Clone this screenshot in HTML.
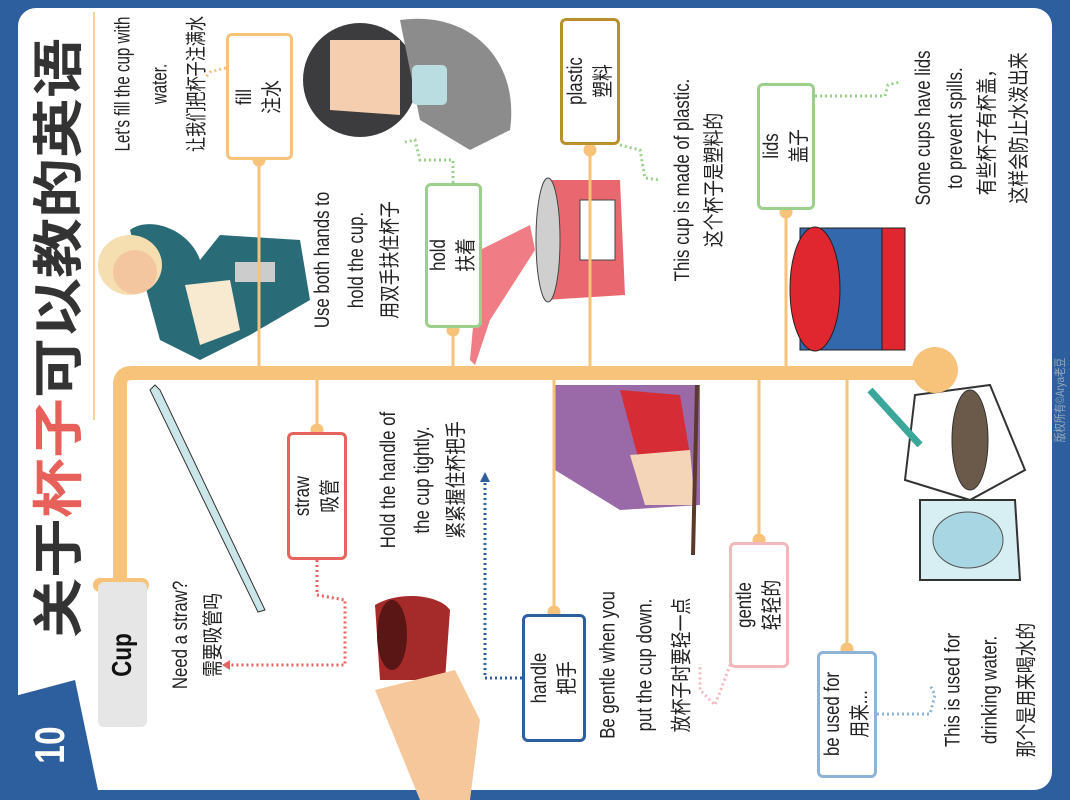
<!DOCTYPE html>
<html><head><meta charset="utf-8"><style>
body{margin:0;width:1070px;height:800px;background:#2d5e9d;position:relative;overflow:hidden;font-family:"Liberation Sans","Noto Sans CJK SC",sans-serif;}
.panel{position:absolute;left:18px;top:8px;width:1034px;height:782px;background:#fff;border-radius:18px;}
.r{position:absolute;transform:translate(-50%,-50%) rotate(-90deg) scaleX(0.8);white-space:nowrap;text-align:center;color:#222;font-size:21px;line-height:34px;}
.box{position:absolute;border:3px solid;border-radius:6px;background:#fff;box-sizing:border-box;}
svg{position:absolute;left:0;top:0;}
</style></head><body>
<div class="panel"></div>
<svg width="1070" height="800">
<polygon points="0,700 75,680 100,800 0,800" fill="#2d5e9d"/>
<line x1="94" y1="12" x2="94" y2="420" stroke="#f7c27a" stroke-width="1.5"/>
<path d="M130,230 C150,215 190,230 200,260 L220,235 L300,240 L310,300 L250,335 L200,360 L160,340 Z" fill="#2a6b78"/>
<ellipse cx="130" cy="265" rx="32" ry="30" fill="#f5deb0"/>
<ellipse cx="135" cy="272" rx="22" ry="22" fill="#f4c6a0"/>
<path d="M185,285 L230,280 L240,330 L200,345 Z" fill="#f8ead0"/>
<rect x="235" y="262" width="40" height="20" fill="#ccc"/>
<circle cx="360" cy="80" r="57" fill="#3c3c3e"/>
<path d="M330,40 L400,40 L400,115 L330,110 Z" fill="#f5ceb0"/>
<path d="M400,20 C470,10 520,60 510,130 L470,150 L420,120 Z" fill="#8c8c8c"/>
<rect x="412" y="65" width="35" height="40" fill="#b9dde0" rx="5"/>
<path d="M480,250 L530,225 L535,250 L490,320 L475,365 L470,360 Z" fill="#f07d85"/>
<path d="M545,180 L620,180 L625,295 L545,300 Z" fill="#e9686f"/>
<ellipse cx="548" cy="240" rx="12" ry="62" fill="#cfcfcf" stroke="#444"/>
<rect x="580" y="200" width="35" height="60" fill="#fff" stroke="#444"/>
<path d="M800,228 L905,228 L905,350 L800,350 Z" fill="#3468ad" stroke="#222"/>
<ellipse cx="815" cy="289" rx="25" ry="62" fill="#e0262f" stroke="#222"/>
<rect x="882" y="228" width="23" height="122" fill="#e0262f" stroke="#222"/>
<path d="M555,385 L700,385 L700,505 L620,510 L555,470 Z" fill="#9a6aa8"/>
<path d="M620,390 L680,395 L690,455 L640,465 Z" fill="#d62c36"/>
<path d="M630,455 L690,450 L695,505 L645,505 Z" fill="#f5d5b8"/>
<line x1="697" y1="385" x2="693" y2="555" stroke="#5a3a2a" stroke-width="4"/>
<path d="M155,385 L160,390 L265,610 L258,612 L150,390 Z" fill="#cbe6e8" stroke="#333"/>
<path d="M375,605 C400,590 440,595 450,610 L445,680 L380,680 Z" fill="#a52a2a"/>
<ellipse cx="392" cy="635" rx="15" ry="35" fill="#5a1515"/>
<path d="M375,690 L455,670 L480,720 L470,800 L420,800 Z" fill="#f6c79a"/>
<path d="M915,395 L990,385 L1025,470 L970,500 L905,480 Z" fill="#fff" stroke="#333" stroke-width="2"/>
<ellipse cx="970" cy="440" rx="18" ry="50" fill="#6b5a4a" stroke="#333"/>
<line x1="870" y1="390" x2="920" y2="445" stroke="#3aa79a" stroke-width="7"/>
<path d="M920,500 L1015,500 L1020,580 L920,580 Z" fill="#d7eef2" stroke="#333" stroke-width="2"/>
<ellipse cx="968" cy="540" rx="35" ry="28" fill="#a8d6e2" stroke="#555"/>
<path d="M935,373 L132,373 Q120,373 120,385 L120,585" stroke="#f7c27a" stroke-width="14" fill="none"/>
<line x1="100" y1="585" x2="142" y2="585" stroke="#f7c27a" stroke-width="14" stroke-linecap="round"/>
<circle cx="935" cy="370" r="23" fill="#f7c27a"/>
<g stroke="#f7c27a" stroke-width="3" fill="#f7c27a">
<line x1="259" y1="160" x2="259" y2="373"/><circle cx="259" cy="160" r="5"/>
<line x1="453" y1="328" x2="453" y2="373"/><circle cx="453" cy="330" r="5"/>
<line x1="590" y1="145" x2="590" y2="373"/><circle cx="590" cy="150" r="5"/>
<line x1="786" y1="210" x2="786" y2="373"/><circle cx="786" cy="212" r="5"/>
<line x1="317" y1="373" x2="317" y2="432"/><circle cx="317" cy="430" r="5"/>
<line x1="554" y1="373" x2="554" y2="614"/><circle cx="554" cy="612" r="5"/>
<line x1="759" y1="373" x2="759" y2="542"/><circle cx="759" cy="540" r="5"/>
<line x1="847" y1="373" x2="847" y2="651"/><circle cx="847" cy="649" r="5"/>
</g>
<g fill="none" stroke-width="3" stroke-dasharray="2,3">
<path d="M226,68 L210,72 L205,78" stroke="#f7c27a"/>
<path d="M453,183 L453,160 L420,160 L415,140 L405,142" stroke="#9ccf8c"/>
<path d="M620,145 L640,150 L645,178 L660,180" stroke="#9ccf8c"/>
<path d="M815,96 L885,96 L888,85 L900,82" stroke="#9ccf8c"/>
<path d="M317,560 L317,595 L345,600 L345,665 L228,665" stroke="#e8625e"/>
<path d="M522,678 L485,678 L485,478" stroke="#2d5e9d"/>
<path d="M732,660 L715,705 L700,690 L700,664" stroke="#f2b8bc"/>
<path d="M877,714 L930,714 L935,695 L930,685" stroke="#8db4d6"/>
</g>
<polygon points="222,665 230,660 230,670" fill="#e8625e"/>
<polygon points="485,472 480,482 490,482" fill="#2d5e9d"/>
</svg>

<div class="r" style="left:55px;top:338px;font-size:60px;line-height:60px;font-weight:bold;font-family:'Noto Sans CJK SC',sans-serif;color:#333;transform:translate(-50%,-50%) rotate(-90deg) scaleY(0.85);">关于<span style="color:#e8605a">杯子</span>可以教的英语</div>
<div class="r" style="left:50px;top:745px;font-size:42px;font-weight:bold;color:#fff;">10</div>
<div style="position:absolute;left:98px;top:582px;width:49px;height:145px;background:#e6e6e6;border-radius:6px;"></div>
<div class="r" style="left:122px;top:655px;font-size:28px;font-weight:bold;color:#111;">Cup</div>

<div class="r" style="left:160px;top:84px;line-height:37px;transform:translate(-50%,-50%) rotate(-90deg) scaleX(0.72);">Let's fill the cup with<br>water.<br>让我们把杯子注满水</div>
<div class="r" style="left:357px;top:260px;line-height:34px;">Use both hands to<br>hold the cup.<br>用双手扶住杯子</div>
<div class="r" style="left:423px;top:480px;line-height:34px;">Hold the handle of<br>the cup tightly.<br>紧紧握住杯把手</div>
<div class="r" style="left:197px;top:635px;line-height:33px;">Need a straw?<br>需要吸管吗</div>
<div class="r" style="left:645px;top:665px;line-height:37px;">Be gentle when you<br>put the cup down.<br>放杯子时要轻一点</div>
<div class="r" style="left:699px;top:180px;line-height:32px;">This cup is made of plastic.<br>这个杯子是塑料的</div>
<div class="r" style="left:972px;top:128px;line-height:32px;">Some cups have lids<br>to prevent spills.<br>有些杯子有杯盖，<br>这样会防止水泼出来</div>
<div class="r" style="left:990px;top:690px;line-height:37px;">This is used for<br>drinking water.<br>那个是用来喝水的</div>
<div class="r" style="left:1060px;top:400px;font-size:12px;color:#9ab;">版权所有©Arya老豆</div>

<div class="box" style="left:226px;top:33px;width:67px;height:127px;border-color:#f7c27a"></div>
<div class="r" style="left:259px;top:97px;line-height:28px;">fill<br>注水</div>
<div class="box" style="left:425px;top:183px;width:57px;height:145px;border-color:#9ccf8c"></div>
<div class="r" style="left:453px;top:255px;line-height:28px;">hold<br>扶着</div>
<div class="box" style="left:560px;top:18px;width:60px;height:127px;border-color:#b8912e"></div>
<div class="r" style="left:590px;top:81px;line-height:28px;">plastic<br>塑料</div>
<div class="box" style="left:757px;top:83px;width:58px;height:127px;border-color:#9ccf8c"></div>
<div class="r" style="left:786px;top:146px;line-height:28px;">lids<br>盖子</div>
<div class="box" style="left:287px;top:432px;width:60px;height:128px;border-color:#e8625e"></div>
<div class="r" style="left:317px;top:496px;line-height:28px;">straw<br>吸管</div>
<div class="box" style="left:522px;top:614px;width:64px;height:128px;border-color:#2d5e9d"></div>
<div class="r" style="left:554px;top:678px;line-height:28px;">handle<br>把手</div>
<div class="box" style="left:729px;top:542px;width:60px;height:126px;border-color:#f2b8bc"></div>
<div class="r" style="left:759px;top:605px;line-height:28px;">gentle<br>轻轻的</div>
<div class="box" style="left:817px;top:651px;width:60px;height:127px;border-color:#8db4d6"></div>
<div class="r" style="left:847px;top:714px;line-height:28px;">be used for<br>用来...</div>
</body></html>
